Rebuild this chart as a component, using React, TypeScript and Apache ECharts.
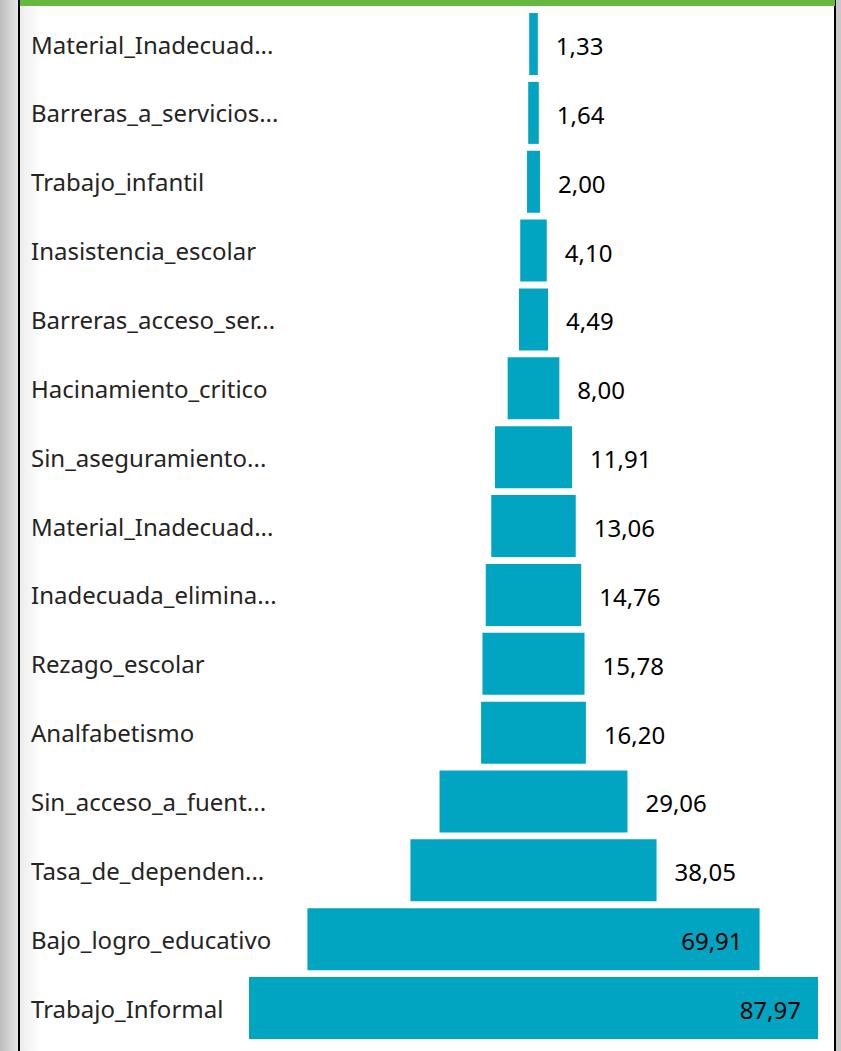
import React, { useEffect, useRef } from "react";
import * as echarts from "echarts";

const categories = [
  "Material_Inadecuad...",
  "Barreras_a_servicios...",
  "Trabajo_infantil",
  "Inasistencia_escolar",
  "Barreras_acceso_ser...",
  "Hacinamiento_critico",
  "Sin_aseguramiento...",
  "Material_Inadecuad...",
  "Inadecuada_elimina...",
  "Rezago_escolar",
  "Analfabetismo",
  "Sin_acceso_a_fuent...",
  "Tasa_de_dependen...",
  "Bajo_logro_educativo",
  "Trabajo_Informal",
];

const values = [1.33, 1.64, 2.0, 4.1, 4.49, 8.0, 11.91, 13.06, 14.76, 15.78, 16.2, 29.06, 38.05, 69.91, 87.97];

const insideThreshold = 60;

const fmt = (v: number) => v.toFixed(2).replace(".", ",");

export default function App() {
  const ref = useRef<HTMLDivElement>(null);
  useEffect(() => {
    if (!ref.current) return;
    const chart = echarts.init(ref.current, null, { renderer: "svg" });
    const maxV = Math.max(...values);
    const offsets = values.map((v) => (maxV - v) / 2);
    const font = "'Noto Sans', 'Open Sans', sans-serif";
    chart.setOption({
      animation: false,
      backgroundColor: "#ffffff",
      grid: { left: 249, right: 23, top: 9.6, bottom: 8.5, containLabel: false },
      xAxis: {
        type: "value",
        min: 0,
        max: maxV,
        show: false,
      },
      yAxis: {
        type: "category",
        inverse: true,
        data: categories,
        axisLine: { show: false },
        axisTick: { show: false },
        splitLine: { show: false },
        axisLabel: {
          align: "left",
          margin: 218,
          color: "#252423",
          fontSize: 24,
          fontFamily: font,
        },
      },
      graphic: [
        {
          type: "rect",
          shape: { x: 0, y: 0, width: 18, height: 1051 },
          style: {
            fill: new echarts.graphic.LinearGradient(0, 0, 1, 0, [
              { offset: 0, color: "#bdbdbd" },
              { offset: 1, color: "#e6e6e6" },
            ]),
          },
          silent: true,
        },
        {
          type: "rect",
          shape: { x: 20, y: 0, width: 22, height: 1051 },
          style: {
            fill: new echarts.graphic.LinearGradient(0, 0, 1, 0, [
              { offset: 0, color: "rgba(0,0,0,0.07)" },
              { offset: 1, color: "rgba(0,0,0,0)" },
            ]),
          },
          silent: true,
        },
        {
          type: "rect",
          shape: { x: 18, y: 0, width: 2, height: 1051 },
          style: { fill: "#000000" },
          silent: true,
        },
        {
          type: "rect",
          shape: { x: 834, y: 0, width: 2, height: 1051 },
          style: { fill: "#000000" },
          silent: true,
        },
        {
          type: "rect",
          shape: { x: 836, y: 0, width: 5, height: 1051 },
          style: { fill: "#c8c8c8" },
          silent: true,
        },
        {
          type: "rect",
          shape: { x: 20, y: 0, width: 815, height: 6 },
          style: { fill: "#66b93e" },
          silent: true,
        },
      ],
      series: [
        {
          type: "bar",
          stack: "funnel",
          data: offsets,
          itemStyle: { color: "transparent" },
          barWidth: 62,
          silent: true,
          label: { show: false },
        },
        {
          type: "bar",
          stack: "funnel",
          barWidth: 62,
          data: values.map((v) => ({
            value: v,
            label: {
              position: v > insideThreshold ? "insideRight" : "right",
              distance: v > insideThreshold ? 17 : 18,
            },
          })),
          itemStyle: { color: "#01a5c1" },
          label: {
            show: true,
            color: "#000000",
            fontSize: 24,
            fontFamily: font,
            offset: [0, 1.5],
            formatter: (p: any) => fmt(p.value),
          },
        },
      ],
    });
    return () => chart.dispose();
  }, []);
  return (
    <div
      ref={ref}
      style={{ position: "fixed", left: 0, top: 0, width: 841, height: 1051 }}
    />
  );
}
